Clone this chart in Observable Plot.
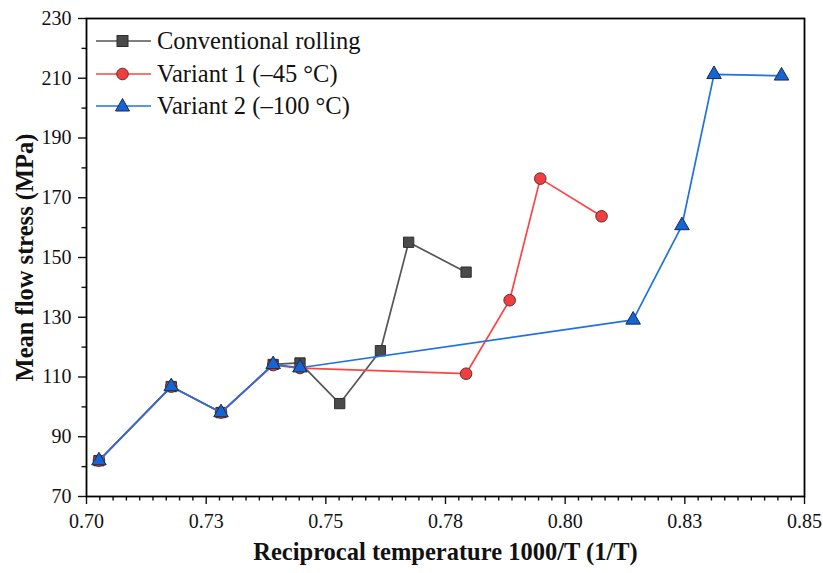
<!DOCTYPE html>
<html>
<head>
<meta charset="utf-8">
<script src="https://cdn.jsdelivr.net/npm/d3@7"></script>
<script src="https://cdn.jsdelivr.net/npm/@observablehq/plot@0.6"></script>
<style>
  html, body { margin: 0; padding: 0; background: #fff; }
  #wrap { position: relative; width: 823px; height: 573px; font-family: 'Liberation Serif', serif; }
  #chart svg, #chart svg text { font-family: 'Liberation Serif', serif !important; }
  #legend { position: absolute; left: 95px; top: 25px; }
  .row { display: flex; align-items: center; height: 32.5px; font-size: 24.5px; color: #111; font-family: 'Liberation Serif', serif; }
  .row svg { margin-right: 5px; }
</style>
</head>
<body>
<div id="wrap"><div id="chart"></div><div id="legend"></div></div>
<script>
// ---- data ----
const seriesNames = ["Conventional rolling", "Variant 1 (\u201345 \u00b0C)", "Variant 2 (\u2013100 \u00b0C)"];
const xConv = [0.7026, 0.7177, 0.7281, 0.7390, 0.7446, 0.7529, 0.7614, 0.7673, 0.7793];
const yConv = [82.0, 106.8, 98.1, 114.2, 114.7, 101.1, 118.8, 155.1, 145.1];
const xV1 = [0.7026, 0.7177, 0.7281, 0.7390, 0.7446, 0.7793, 0.7884, 0.7948, 0.8076];
const yV1 = [82.0, 106.8, 98.1, 114.0, 113.0, 111.1, 135.7, 176.4, 163.8];
const xV2 = [0.7026, 0.7177, 0.7281, 0.7390, 0.7446, 0.8142, 0.8244, 0.8311, 0.8452];
const yV2 = [82.0, 106.8, 98.1, 114.2, 113.1, 129.1, 160.7, 211.3, 210.8];
const xTickValues = [0.70, 0.725, 0.75, 0.775, 0.80, 0.825, 0.85];
const xTickLabels = ["0.70", "0.73", "0.75", "0.78", "0.80", "0.83", "0.85"];
const yTickValues = [70, 90, 110, 130, 150, 170, 190, 210, 230];
const xTitle = "Reciprocal temperature 1000/T (1/T)";
const yTitle = "Mean flow stress (MPa)";

// ---- styles ----
const styles = [
  {line: "#555555", fill: "#4a4a4a", stroke: "#2e2e2e", symbol: "square", r: 5.8},
  {line: "#ff4343", fill: "#f23e3e", stroke: "#5a3030", symbol: "circle", r: 5.8},
  {line: "#1f72e0", fill: "#1565d6", stroke: "#1c2a44", symbol: "triangle", r: 5.4}
];

const toRows = (xs, ys) => xs.map((x, i) => ({x, y: ys[i]}));
const series = [toRows(xConv, yConv), toRows(xV1, yV1), toRows(xV2, yV2)];

// minor ticks: 8 between x majors, 1 between y majors
const xMinor = [];
for (let i = 0; i < xTickValues.length - 1; i++) {
  for (let k = 1; k < 9; k++) xMinor.push(xTickValues[i] + (xTickValues[i + 1] - xTickValues[i]) * k / 9);
}
const yMinor = [];
for (let i = 0; i < yTickValues.length - 1; i++) yMinor.push((yTickValues[i] + yTickValues[i + 1]) / 2);

const marks = [];
series.forEach((d, i) => {
  marks.push(Plot.line(d, {x: "x", y: "y", stroke: styles[i].line, strokeWidth: 1.7}));
  marks.push(Plot.dot(d, {x: "x", y: "y", symbol: () => styles[i].symbol, r: styles[i].r,
    fill: styles[i].fill, stroke: styles[i].stroke, strokeWidth: 1}));
});

const FONT = "Liberation Serif";
const chart = Plot.plot({
  width: 823,
  height: 573,
  marginLeft: 86,
  marginRight: 19,
  marginTop: 18,
  marginBottom: 77,
  style: {fontFamily: "'Liberation Serif', serif", background: "#fff", color: "#111"},
  x: {domain: [0.70, 0.85]},
  y: {domain: [70, 230]},
  marks: [
    Plot.axisX({ticks: xMinor, tickSize: 4.5, text: null, strokeWidth: 1.4, label: null}),
    Plot.axisY({ticks: yMinor, tickSize: 4.5, text: null, strokeWidth: 1.4, label: null}),
    Plot.axisX({ticks: xTickValues, tickSize: 8, tickPadding: 9, strokeWidth: 1.4, fontSize: 20, fontFamily: FONT,
      tickFormat: (d) => xTickLabels[xTickValues.indexOf(d)], label: null}),
    Plot.axisY({ticks: yTickValues, tickSize: 8, tickPadding: 7, strokeWidth: 1.4, fontSize: 20, fontFamily: FONT, label: null}),
    ...marks,
    Plot.frame({stroke: "#000", strokeWidth: 1.8}),
    Plot.text([xTitle], {frameAnchor: "bottom", text: (d) => d, dy: 63, fontSize: 24.5, fontWeight: "bold", fontFamily: FONT, fill: "#111"}),
    Plot.text([yTitle], {frameAnchor: "left", textAnchor: "middle", text: (d) => d, rotate: -90, dx: -61, fontSize: 24.5, fontWeight: "bold", fontFamily: FONT, fill: "#111"})
  ]
});
document.getElementById("chart").appendChild(chart);

// ---- legend ----
const legend = document.getElementById("legend");
const sym = (s) => {
  if (s.symbol === "square") return `<rect x="22" y="5.5" width="11" height="11" fill="${s.fill}" stroke="${s.stroke}" stroke-width="1"/>`;
  if (s.symbol === "circle") return `<circle cx="27.5" cy="11" r="5.8" fill="${s.fill}" stroke="${s.stroke}" stroke-width="1"/>`;
  return `<path d="M27.5,3.5 L34.5,16 L20.5,16 Z" fill="${s.fill}" stroke="${s.stroke}" stroke-width="1"/>`;
};
seriesNames.forEach((name, i) => {
  const s = styles[i];
  const row = document.createElement("div");
  row.className = "row";
  row.innerHTML = `<svg width="57" height="22"><line x1="1" x2="56" y1="11" y2="11" stroke="${s.line}" stroke-width="1.7"/>${sym(s)}</svg><span>${name}</span>`;
  legend.appendChild(row);
});
</script>
</body>
</html>
